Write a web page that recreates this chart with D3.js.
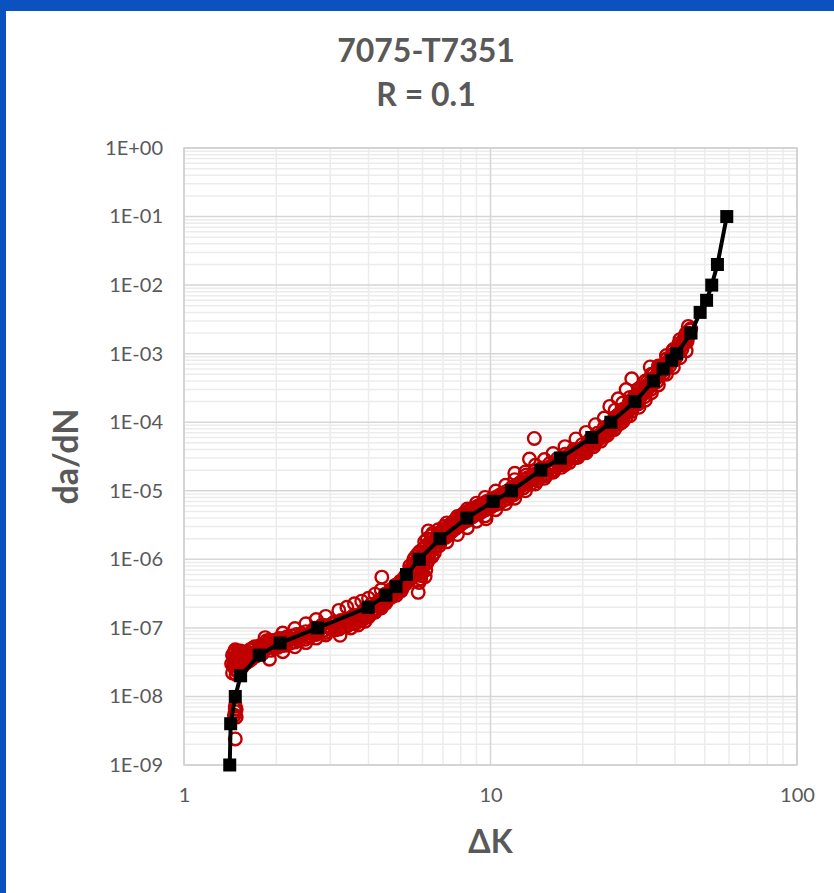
<!DOCTYPE html>
<html>
<head>
<meta charset="utf-8">
<script src="https://cdn.jsdelivr.net/npm/d3@7"></script>
<style>
html,body{margin:0;padding:0;background:#0b52c0;}
svg{display:block;}
</style>
</head>
<body>
<svg id="chart" width="834" height="893"></svg>
<script>
// Fit curve (black squares): ΔK and da/dN
const fitDK = [1.41,1.42,1.47,1.53,1.76,2.06,2.73,3.99,4.56,4.92,5.32,5.86,6.84,8.37,10.2,11.7,14.6,16.9,21.4,24.7,29.6,34.0,36.6,39.0,40.5,45.1,48.3,50.7,52.7,55.0,59.0];
const fitDadN = [1e-9,4e-9,1e-8,2e-8,4e-8,6e-8,1e-7,2e-7,3e-7,4e-7,6e-7,1e-6,2e-6,4e-6,7e-6,1e-5,2e-5,3e-5,6e-5,1e-4,2e-4,4e-4,6e-4,8e-4,1e-3,2e-3,4e-3,6e-3,1e-2,2e-2,1e-1];

// Test data (red open circles): ΔK
const testDK = [
1.47,1.46,1.47,1.48,1.47,1.48,1.47,
1.44,1.45,1.45,1.46,1.47,1.48,1.49,1.50,1.51,1.52,1.53,1.55,1.56,1.58,1.60,1.62,1.64,1.66,1.68,1.70,1.72,1.75,1.78,1.80,1.84,1.85,1.88,1.92,1.95,1.98,
2.02,2.06,2.10,2.15,2.20,2.25,2.30,2.36,2.42,2.48,2.55,2.62,2.70,2.76,2.82,2.90,2.98,3.05,3.12,3.23,3.20,3.30,3.38,3.46,3.55,3.62,3.72,3.80,3.88,3.96,
3.50,3.70,3.90,
4.05,4.12,4.20,4.28,4.35,4.42,4.42,4.50,4.55,4.62,4.68,4.75,4.82,4.90,4.95,5.02,5.08,5.15,5.20,5.26,5.30,5.36,5.42,5.45,5.50,5.55,5.58,5.62,5.68,5.72,5.76,5.80,5.81,5.85,5.90,5.95,
6.00,6.02,6.05,6.10,6.12,6.15,6.20,6.25,6.27,6.30,6.35,6.40,6.45,6.52,6.60,6.68,6.75,6.82,6.90,6.98,7.05,7.15,7.25,7.35,7.45,7.55,7.65,7.75,7.85,7.95,
8.05,8.15,8.25,8.40,8.50,8.60,8.75,8.90,9.05,9.20,9.35,9.50,9.67,9.65,9.80,9.95,
10.1,10.3,10.5,10.7,10.9,11.1,11.3,11.5,11.7,11.9,12.0,12.1,12.3,12.7,12.9,13.1,13.3,13.4,13.6,13.9,13.9,
14.1,14.4,14.7,15.0,15.3,15.6,15.9,16.2,16.5,16.9,17.2,17.5,17.9,18.3,18.7,19.1,19.5,19.9,
20.3,20.7,21.1,21.5,21.9,22.3,22.7,23.1,23.5,23.9,24.3,24.5,24.7,25.1,25.5,25.9,26.1,26.3,26.7,27.1,27.5,27.7,27.9,28.3,28.7,28.9,29.1,29.5,
30.0,30.5,31.0,31.5,32.0,32.5,33.0,33.2,33.5,34.0,34.6,35.2,35.8,36.4,37.0,37.6,38.2,38.8,39.4,
40.0,40.6,41.2,41.8,42.4,43.0,43.5,44.0,44.2,44.6,
1.43,1.44,1.46,1.47,1.48,1.49,1.50,1.51,1.53,1.54,1.57,1.59,1.61,1.63,1.65,1.67,1.69,1.73,1.76,1.79,1.82,1.86,1.90,1.94,1.97,
2.00,2.04,2.08,2.12,2.17,2.22,2.27,2.33,2.38,2.44,2.50,2.57,2.64,2.67,2.73,2.79,2.86,2.94,3.01,3.08,3.16,3.25,3.34,3.42,3.50,3.58,3.66,3.76,3.84,3.92,
4.00,4.08,4.16,4.24,4.32,4.40,4.47,4.53,4.60,4.66,4.72,4.80,4.87,4.93,5.00,5.05,5.12,5.18,5.24,5.32,5.40,5.48,5.52,5.60,5.65,5.70,5.74,5.78,5.83,5.88,5.92,5.97,
6.03,6.08,6.14,6.18,6.22,6.28,6.33,6.38,6.43,6.48,6.56,6.64,6.72,6.80,6.86,6.94,7.02,7.10,7.20,7.30,7.40,7.50,7.60,7.70,7.80,7.90,
8.00,8.10,8.20,8.32,8.45,8.55,8.68,8.82,8.95,9.10,9.25,9.40,9.55,9.72,9.88,
10.0,10.2,10.4,10.6,10.8,11.0,11.2,11.4,11.6,11.8,12.0,12.2,12.4,12.6,12.8,13.0,13.2,13.5,13.7,14.0,14.25,14.55,14.85,15.15,15.45,15.75,16.05,16.35,16.7,17.05,17.35,17.7,18.1,18.5,18.9,19.3,19.7,
20.1,20.5,20.9,21.3,21.7,22.1,22.5,22.9,23.3,23.7,24.1,24.5,24.9,25.3,25.7,26.1,26.5,26.9,27.3,27.7,28.1,28.5,28.9,29.3,29.8,
30.3,30.8,31.3,31.8,32.3,32.8,33.3,33.8,34.3,34.9,35.5,36.1,36.7,37.3,37.9,38.5,39.1,39.7,
40.3,40.9,41.5,42.1,42.7,43.3,43.8,44.4,45.0,
1.9,1.9,2.1,2.1,2.3,2.3,2.5,2.5,2.7,2.7,2.9,2.9,3.2,3.2,3.4,3.4,3.6,3.6,3.8,3.8,4.0,4.0,4.2,4.2,4.4,4.4,
7.2,7.2,7.8,7.8,8.4,8.4,9.0,9.0,9.6,9.6,10.4,10.4,11.2,11.2,12.0,12.0,13.0,13.0,14.0,14.0,15.0,15.0,16.0,16.0,17.5,17.5,19.0,19.0,
20.5,20.5,22.0,22.0,23.5,23.5,25.5,25.5,27.0,27.0,28.5,28.5,30.5,30.5,32.0,32.0,33.5,33.5,35.3,35.3,37.5,37.5,39.5,39.5,41.5,41.5,43.5,43.5
];
// Test data (red open circles): da/dN
const testDadN = [
6.6e-9,5.3e-9,2.4e-9,6.5e-9,7.2e-9,5.0e-9,6.0e-9,
2.2e-8,2.8e-8,3.5e-8,4.4e-8,2.5e-8,3.2e-8,4.0e-8,2.3e-8,3.0e-8,3.8e-8,4.6e-8,2.7e-8,3.4e-8,4.2e-8,3.1e-8,3.8e-8,4.8e-8,3.5e-8,4.3e-8,5.3e-8,3.9e-8,4.7e-8,5.6e-8,4.2e-8,7.2e-8,5.0e-8,6.0e-8,4.7e-8,5.6e-8,6.6e-8,
5.2e-8,6.2e-8,7.0e-8,5.6e-8,6.6e-8,7.6e-8,6.2e-8,7.2e-8,8.2e-8,6.8e-8,7.8e-8,9.0e-8,8.0e-8,9.6e-8,1.1e-7,8.6e-8,1.0e-7,1.15e-7,9.4e-8,7.8e-8,1.1e-7,1.25e-7,1.05e-7,1.2e-7,1.4e-7,1.15e-7,1.35e-7,1.6e-7,1.4e-7,1.7e-7,
1.0e-7,1.1e-7,1.25e-7,
2.0e-7,1.65e-7,1.9e-7,2.3e-7,2.0e-7,5.5e-7,2.4e-7,2.8e-7,2.3e-7,2.7e-7,3.3e-7,2.8e-7,3.4e-7,4.2e-7,3.3e-7,4.0e-7,4.8e-7,3.8e-7,4.6e-7,5.6e-7,4.4e-7,5.4e-7,6.6e-7,8.0e-7,5.2e-7,6.4e-7,8.2e-7,1.0e-6,6.0e-7,7.5e-7,9.5e-7,1.2e-6,3.3e-7,4.6e-7,5.8e-7,7.2e-7,
9.0e-7,1.15e-6,1.45e-6,1.8e-6,5.6e-7,7.0e-7,8.8e-7,1.1e-6,2.6e-6,1.4e-6,1.75e-6,2.2e-6,1.1e-6,1.4e-6,1.75e-6,2.2e-6,2.7e-6,1.6e-6,2.0e-6,2.5e-6,3.0e-6,2.1e-6,2.6e-6,3.2e-6,2.5e-6,3.1e-6,3.7e-6,2.9e-6,3.5e-6,4.2e-6,
3.3e-6,4.0e-6,4.8e-6,3.7e-6,4.5e-6,5.3e-6,4.2e-6,5.0e-6,5.9e-6,4.7e-6,5.6e-6,6.6e-6,3.9e-6,5.3e-6,6.3e-6,7.3e-6,
5.9e-6,7.0e-6,8.2e-6,6.6e-6,8.0e-6,9.4e-6,7.6e-6,9.2e-6,1.1e-5,8.8e-6,1.8e-5,1.05e-5,1.25e-5,1.2e-5,1.45e-5,1.7e-5,1.35e-5,2.9e-5,1.6e-5,1.9e-5,5.8e-5,
1.5e-5,1.8e-5,2.15e-5,1.75e-5,2.1e-5,2.5e-5,2.0e-5,2.4e-5,2.9e-5,2.4e-5,2.9e-5,3.4e-5,2.8e-5,3.4e-5,4.0e-5,3.3e-5,4.0e-5,4.7e-5,
3.9e-5,4.7e-5,5.6e-5,4.8e-5,5.8e-5,6.9e-5,5.8e-5,7.0e-5,8.4e-5,7.0e-5,8.5e-5,1.7e-4,1.0e-4,8.5e-5,1.05e-4,1.25e-4,2.2e-4,1.05e-4,1.3e-4,1.55e-4,1.3e-4,3.0e-4,1.6e-4,1.9e-4,1.6e-4,4.3e-4,2.0e-4,2.4e-4,
2.0e-4,2.5e-4,3.0e-4,2.6e-4,3.2e-4,3.9e-4,3.3e-4,6.4e-4,4.1e-4,5.0e-4,4.3e-4,5.3e-4,6.5e-4,5.6e-4,6.9e-4,8.4e-4,7.3e-4,9.0e-4,1.1e-3,
9.5e-4,1.15e-3,1.4e-3,1.25e-3,1.5e-3,1.8e-3,1.6e-3,2.0e-3,2.5e-3,2.2e-3,
3.0e-8,4.0e-8,3.0e-8,4.8e-8,2.1e-8,3.6e-8,4.6e-8,2.6e-8,3.3e-8,4.2e-8,3.0e-8,3.7e-8,4.5e-8,3.3e-8,4.1e-8,5.0e-8,3.8e-8,4.4e-8,5.2e-8,4.5e-8,5.5e-8,6.5e-8,5.3e-8,6.2e-8,5.0e-8,
6.0e-8,7.0e-8,5.5e-8,6.4e-8,7.4e-8,6.0e-8,6.9e-8,8.0e-8,6.6e-8,7.6e-8,8.8e-8,7.3e-8,8.5e-8,9.9e-8,8.6e-8,1.02e-7,9.2e-8,1.08e-7,9.8e-8,1.2e-7,1.03e-7,1.28e-7,1.12e-7,1.36e-7,1.25e-7,1.52e-7,1.3e-7,1.55e-7,1.75e-7,1.55e-7,
1.8e-7,2.2e-7,1.8e-7,2.1e-7,2.5e-7,2.2e-7,2.6e-7,3.1e-7,2.5e-7,3.0e-7,3.6e-7,3.1e-7,3.8e-7,3.0e-7,3.6e-7,4.4e-7,3.5e-7,4.2e-7,5.0e-7,4.8e-7,5.8e-7,7.2e-7,5.8e-7,7.0e-7,8.8e-7,1.1e-6,6.6e-7,8.4e-7,1.05e-6,1.3e-6,5.2e-7,6.4e-7,
8.0e-7,1.0e-6,1.25e-6,1.6e-6,2.0e-6,9.8e-7,1.25e-6,1.55e-6,1.95e-6,2.4e-6,1.25e-6,1.55e-6,1.95e-6,2.4e-6,1.8e-6,2.2e-6,2.7e-6,2.3e-6,2.85e-6,2.3e-6,2.8e-6,3.4e-6,2.7e-6,3.3e-6,3.9e-6,3.1e-6,
3.8e-6,4.5e-6,3.5e-6,4.3e-6,5.0e-6,4.0e-6,4.8e-6,5.6e-6,4.5e-6,5.3e-6,6.2e-6,5.0e-6,6.0e-6,7.0e-6,5.6e-6,
6.6e-6,7.7e-6,6.3e-6,7.5e-6,8.8e-6,7.2e-6,8.6e-6,1.0e-5,8.3e-6,9.9e-6,1.17e-5,9.6e-6,1.15e-5,1.35e-5,1.1e-5,1.32e-5,1.55e-5,1.25e-5,1.5e-5,1.75e-5,1.4e-5,1.65e-5,2.0e-5,1.65e-5,2.0e-5,2.3e-5,1.9e-5,2.25e-5,2.7e-5,2.2e-5,2.65e-5,3.15e-5,2.6e-5,3.1e-5,3.7e-5,3.1e-5,3.7e-5,
4.3e-5,3.6e-5,4.3e-5,5.1e-5,4.4e-5,5.3e-5,6.3e-5,5.3e-5,6.4e-5,7.7e-5,6.5e-5,7.8e-5,9.2e-5,7.8e-5,9.5e-5,1.15e-4,9.6e-5,1.17e-4,1.4e-4,1.18e-4,1.45e-4,1.75e-4,1.45e-4,1.8e-4,2.2e-4,
1.85e-4,2.3e-4,2.8e-4,2.35e-4,2.9e-4,3.6e-4,3.0e-4,3.7e-4,4.5e-4,3.9e-4,4.8e-4,5.9e-4,5.1e-4,6.3e-4,7.7e-4,6.7e-4,8.2e-4,1.0e-3,
8.8e-4,1.07e-3,1.3e-3,1.15e-3,1.4e-3,1.7e-3,1.5e-3,1.85e-3,2.3e-3,
6.6e-8,3.5e-8,8.4e-8,4.5e-8,9.8e-8,5.3e-8,1.15e-7,6.1e-8,1.32e-7,7.1e-8,1.47e-7,7.9e-8,1.8e-7,9.6e-8,2.0e-7,1.07e-7,2.25e-7,1.2e-7,2.45e-7,1.3e-7,2.7e-7,1.45e-7,3.1e-7,1.7e-7,3.6e-7,1.95e-7,
3.4e-6,1.8e-6,4.2e-6,2.3e-6,5.4e-6,2.9e-6,6.6e-6,3.6e-6,8.0e-6,4.3e-6,9.9e-6,5.3e-6,1.2e-5,6.5e-6,1.45e-5,7.8e-6,1.88e-5,1.0e-5,2.35e-5,1.26e-5,2.85e-5,1.52e-5,3.5e-5,1.86e-5,4.4e-5,2.4e-5,5.7e-5,3.05e-5,
7.1e-5,3.8e-5,9.2e-5,4.9e-5,1.15e-4,6.1e-5,1.5e-4,8.1e-5,1.9e-4,1.02e-4,2.3e-4,1.24e-4,3.1e-4,1.65e-4,4.0e-4,2.1e-4,5.0e-4,2.7e-4,6.6e-4,3.5e-4,9.4e-4,5.0e-4,1.15e-3,6.3e-4,1.6e-3,8.7e-4,2.0e-3,1.1e-3
];

const xTickValues = [1,10,100];
const yTickValues = [1e-9,1e-8,1e-7,1e-6,1e-5,1e-4,1e-3,1e-2,1e-1,1];
const yTickLabels = ["1E-09","1E-08","1E-07","1E-06","1E-05","1E-04","1E-03","1E-02","1E-01","1E+00"];
const titleLines = ["7075-T7351","R = 0.1"];
const xTitle = "ΔK";
const yTitle = "da/dN";

(function(){
const svg = d3.select("#chart");
const W = 834, H = 893;
const pL = 184, pR = 797, pT = 148, pB = 765;
const textColor = "#595959";
const font = "Lato,'Open Sans',sans-serif";

svg.append("rect").attr("x",0).attr("y",0).attr("width",W).attr("height",H).attr("fill","#0b52c0");
svg.append("rect").attr("x",6).attr("y",11).attr("width",W-6).attr("height",H-11).attr("fill","#ffffff");

const x = d3.scaleLog().domain([1,100]).range([pL,pR]);
const y = d3.scaleLog().domain([1e-9,1]).range([pB,pT]);

const minorX = [], minorY = [];
for (let d = 1; d < 100; d *= 10) for (let k = 2; k <= 9; k++) minorX.push(d*k);
for (let e = -9; e < 0; e++) for (let k = 2; k <= 9; k++) minorY.push(k*Math.pow(10,e));

const g = svg.append("g");
g.selectAll(".mx").data(minorX).join("line")
  .attr("x1",d=>x(d)).attr("x2",d=>x(d)).attr("y1",pT).attr("y2",pB)
  .attr("stroke","#ececec").attr("stroke-width",1.5);
g.selectAll(".my").data(minorY).join("line")
  .attr("y1",d=>y(d)).attr("y2",d=>y(d)).attr("x1",pL).attr("x2",pR)
  .attr("stroke","#ececec").attr("stroke-width",1.5);
g.selectAll(".MX").data(xTickValues).join("line")
  .attr("x1",d=>x(d)).attr("x2",d=>x(d)).attr("y1",pT).attr("y2",pB)
  .attr("stroke","#d6d6d6").attr("stroke-width",1.5);
g.selectAll(".MY").data(yTickValues).join("line")
  .attr("y1",d=>y(d)).attr("y2",d=>y(d)).attr("x1",pL).attr("x2",pR)
  .attr("stroke","#d6d6d6").attr("stroke-width",1.5);
svg.append("rect").attr("x",pL).attr("y",pT).attr("width",pR-pL).attr("height",pB-pT)
  .attr("fill","none").attr("stroke","#cfcfcf").attr("stroke-width",1.5);

const xAxis = d3.axisBottom(x).tickValues(xTickValues).tickFormat(d3.format("d")).tickSize(0).tickPadding(23);
const xa = svg.append("g").attr("transform",`translate(0,${pB})`).call(xAxis);
xa.select(".domain").remove();
xa.selectAll("text").attr("fill",textColor).style("font-family",font).style("font-size","20px");

const yAxis = d3.axisLeft(y).tickValues(yTickValues).tickFormat((d,i)=>yTickLabels[i]).tickSize(0).tickPadding(21);
const ya = svg.append("g").attr("transform",`translate(${pL},0)`).call(yAxis);
ya.select(".domain").remove();
ya.selectAll("text").attr("fill",textColor).style("font-family",font).style("font-size","20px");

const pts = testDK.map((d,i)=>[d,testDadN[i]]);
svg.append("g").selectAll("circle").data(pts).join("circle")
  .attr("cx",d=>x(d[0])).attr("cy",d=>y(d[1])).attr("r",6.3)
  .attr("fill","none").attr("stroke","#c00000").attr("stroke-width",2.4);

const fit = fitDK.map((d,i)=>[d,fitDadN[i]]);
svg.append("path").datum(fit)
  .attr("d",d3.line().x(d=>x(d[0])).y(d=>y(d[1])))
  .attr("fill","none").attr("stroke","#000").attr("stroke-width",4);
svg.append("g").selectAll("rect").data(fit).join("rect")
  .attr("x",d=>x(d[0])-6.5).attr("y",d=>y(d[1])-6.5).attr("width",13).attr("height",13).attr("fill","#000");

const tt = (tx,ty,s,fs)=>svg.append("text").attr("x",tx).attr("y",ty).attr("text-anchor","middle")
  .attr("fill",textColor).style("font-family",font).style("font-weight","bold").style("font-size",fs+"px").text(s);
tt(426,62,titleLines[0],32);
tt(426,106,titleLines[1],32);
tt((pL+pR)/2,853,xTitle,32);
svg.append("text").attr("transform",`translate(78,${(pT+pB)/2}) rotate(-90)`).attr("text-anchor","middle")
  .attr("fill",textColor).style("font-family",font).style("font-weight","bold").style("font-size","34px")
  .text(yTitle);
})();
</script>
</body>
</html>
